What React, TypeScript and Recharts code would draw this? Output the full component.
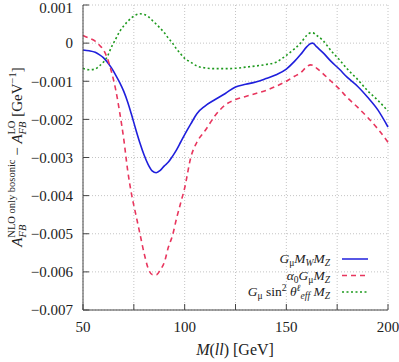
import React from 'react';
import { LineChart, Line, XAxis, YAxis, CartesianGrid, Legend } from 'recharts';

const FONT = "'Liberation Serif', 'DejaVu Serif', 'Noto Serif', serif";

const mass = [50, 53, 56, 58, 60, 62, 64, 66, 68, 70, 72, 74, 76, 78, 80, 82, 84, 86, 88, 90, 92, 94, 96, 98, 100, 103, 106, 110, 115, 120, 125, 130, 135, 140, 145, 150, 154, 157, 160, 162, 163, 165, 168, 172, 176, 180, 185, 190, 195, 200];

const gmuMwMz = [-0.00018, -0.0002, -0.00024, -0.0003, -0.00038, -0.0005, -0.00065, -0.00083, -0.00103, -0.00126, -0.00155, -0.0019, -0.00227, -0.00262, -0.00293, -0.00318, -0.00335, -0.0034, -0.00334, -0.00322, -0.00312, -0.00297, -0.0028, -0.0026, -0.0024, -0.00212, -0.00185, -0.00165, -0.00148, -0.00132, -0.00115, -0.00108, -0.00102, -0.00093, -0.00083, -0.00068, -0.00048, -0.0003, -0.0001, -0.00001, 0.0, -0.0001, -0.00025, -0.00048, -0.00068, -0.0009, -0.00113, -0.00142, -0.00175, -0.0022];

const alpha0GmuMz = [0.0002, 0.00013, 0.00005, -0.00005, -0.00017, -0.0004, -0.00075, -0.0012, -0.0018, -0.0025, -0.00335, -0.004, -0.0045, -0.005, -0.0055, -0.0059, -0.00607, -0.00608, -0.00595, -0.00575, -0.00535, -0.00505, -0.0046, -0.0042, -0.0038, -0.003, -0.0026, -0.0023, -0.0019, -0.00162, -0.00148, -0.0014, -0.00132, -0.00124, -0.00113, -0.001, -0.00087, -0.00078, -0.00062, -0.00057, -0.00058, -0.00066, -0.0008, -0.001, -0.0012, -0.00143, -0.00168, -0.00195, -0.00225, -0.0026];

const gmuSinMz = [-0.00066, -0.0007, -0.00068, -0.0006, -0.0005, -0.00035, -0.0001, 0.0001, 0.0003, 0.00045, 0.00057, 0.00067, 0.00074, 0.00077, 0.00075, 0.0007, 0.0006, 0.0005, 0.00039, 0.00027, 0.00013, 0.0, -0.00015, -0.00028, -0.0004, -0.0005, -0.0006, -0.00065, -0.00067, -0.00067, -0.00066, -0.00063, -0.0006, -0.00056, -0.0005, -0.00032, -0.00015, 0.0, 0.0002, 0.00027, 0.00027, 0.0002, 0.00007, -0.0002, -0.00043, -0.00068, -0.00095, -0.00125, -0.0015, -0.00178];

const xTicks = [50, 75, 100, 125, 150, 175, 200];
const yTicks = [-0.007, -0.006, -0.005, -0.004, -0.003, -0.002, -0.001, 0, 0.001];

const data = mass.map((m, i) => ({ m, a: gmuMwMz[i], b: alpha0GmuMz[i], c: gmuSinMz[i] }));

const BLUE = '#1f1fdc';
const RED = '#e8365e';
const GREEN = '#1e9a1e';
const AXIS = '#444';

const fmtY = (v: number) => {
  if (Math.abs(v) < 1e-12) return '0';
  return (v < 0 ? '\u2212' : '') + Math.abs(v).toFixed(3);
};
const fmtX = (v: number) => (v % 50 === 0 ? String(v) : '');

const SS = 9.5;
const Sub = ({ children, italic = true }: any) => (
  <tspan fontSize={SS} dy={3} fontStyle={italic ? 'italic' : 'normal'}>{children}</tspan>
);

const LegendBox = () => {
  const rows = [
    {
      color: BLUE, dash: undefined,
      text: (
        <>
          <tspan fontStyle="italic">G</tspan><Sub italic={false}>μ</Sub>
          <tspan dy={-3} fontStyle="italic">M</tspan><Sub>W</Sub>
          <tspan dy={-3} fontStyle="italic">M</tspan><Sub>Z</Sub>
        </>
      ),
    },
    {
      color: RED, dash: '5 4',
      text: (
        <>
          <tspan fontStyle="italic">α</tspan><Sub italic={false}>0</Sub>
          <tspan dy={-3} fontStyle="italic">G</tspan><Sub italic={false}>μ</Sub>
          <tspan dy={-3} fontStyle="italic">M</tspan><Sub>Z</Sub>
        </>
      ),
    },
    {
      color: GREEN, dash: '2 2.5',
      text: (
        <>
          <tspan fontStyle="italic">G</tspan><Sub italic={false}>μ</Sub>
          <tspan dy={-3}> sin</tspan><tspan fontSize={SS} dy={-5}>2</tspan>
          <tspan dy={5} fontStyle="italic"> θ</tspan>
          <tspan fontSize={SS} dy={-5} fontStyle="italic">ℓ</tspan>
          <tspan fontSize={SS} dy={8} fontStyle="italic">eff</tspan>
          <tspan dy={-3} fontStyle="italic"> M</tspan><Sub>Z</Sub>
        </>
      ),
    },
  ];
  return (
    <svg width={240} height={56} style={{ overflow: 'visible', display: 'block' }}>
      {rows.map((r, i) => {
        const cy = 9 + i * 16.5;
        return (
          <g key={i}>
            <text x={200} y={cy + 4} textAnchor="end" fontFamily={FONT} style={{ fontFamily: FONT }} fontSize={13.5} fill="#222">{r.text}</text>
            <line x1={212} x2={238} y1={cy} y2={cy} stroke={r.color} strokeWidth={1.5} strokeDasharray={r.dash} />
          </g>
        );
      })}
    </svg>
  );
};

const YTitle = () => (
  <text x={22} y={157} transform="rotate(-90 22 157)" textAnchor="middle" fontFamily={FONT} style={{ fontFamily: FONT }} fontSize={15} fill="#222">
    <tspan fontStyle="italic">A</tspan>
    <tspan fontSize={10.5} dy={4} fontStyle="italic">FB</tspan>
    <tspan fontSize={10.5} dy={-11} dx={-13}>NLO only bosonic</tspan>
    <tspan dy={7}> − </tspan>
    <tspan fontStyle="italic">A</tspan>
    <tspan fontSize={10.5} dy={4} fontStyle="italic">FB</tspan>
    <tspan fontSize={10.5} dy={-11} dx={-13}>LO</tspan>
    <tspan dy={7}> [GeV</tspan>
    <tspan fontSize={10.5} dy={-6}>−1</tspan>
    <tspan dy={6}>]</tspan>
  </text>
);

const XTitle = () => (
  <text x={235} y={355} textAnchor="middle" fontFamily={FONT} style={{ fontFamily: FONT }} fontSize={16} fill="#222">
    <tspan fontStyle="italic">M</tspan>(<tspan fontStyle="italic">ll</tspan>) [GeV]
  </text>
);

const tickStyle = { fill: '#222', fontSize: 15, fontFamily: FONT, style: { fontFamily: FONT } } as any;

const YTick = (props: any) => {
  const { x, y, payload } = props;
  return (
    <text x={x} y={Math.max(y, 7.5)} dy="0.35em" textAnchor="end" fill="#222" fontSize={15} fontFamily={FONT} style={{ fontFamily: FONT }}>
      {fmtY(payload.value)}
    </text>
  );
};

export default function App() {
  return (
    <div style={{ position: 'absolute', left: 0, top: 0, width: 399, height: 362, background: '#fff', fontFamily: FONT }}>
      <LineChart width={399} height={362} data={data} margin={{ top: 5, right: 11, bottom: 0, left: 0 }}>
        <CartesianGrid stroke="#c4c4c4" strokeDasharray="1 2" />
        <XAxis
          dataKey="m" type="number" domain={[50, 200]} ticks={xTicks} tickFormatter={fmtX}
          height={52} tickSize={-6} tickMargin={17} stroke={AXIS} interval={0}
          tick={tickStyle}
          label={{ content: () => <XTitle /> }}
        />
        <XAxis
          xAxisId="top" orientation="top" dataKey="m" type="number" domain={[50, 200]} ticks={xTicks}
          height={0} tickSize={-6} stroke={AXIS} tick={false} interval={0}
        />
        <YAxis
          type="number" domain={[-0.007, 0.001]} ticks={yTicks} interval={0}
          width={83} tickSize={-6} tickMargin={16} stroke={AXIS}
          tick={<YTick />}
          label={{ content: () => <YTitle /> }}
        />
        <YAxis
          yAxisId="right" orientation="right" type="number" domain={[-0.007, 0.001]} ticks={yTicks}
          width={0} tickSize={-6} stroke={AXIS} tick={false} interval={0}
        />
        <Legend
          layout="vertical" align="center" verticalAlign="middle"
          wrapperStyle={{ left: 130, top: 250, width: 240, height: 56 }}
          content={() => <LegendBox />}
        />
        <Line type="monotone" dataKey="a" stroke={BLUE} strokeWidth={1.6} dot={false} isAnimationActive={false} />
        <Line type="monotone" dataKey="b" stroke={RED} strokeWidth={1.6} strokeDasharray="5 4" dot={false} isAnimationActive={false} />
        <Line type="monotone" dataKey="c" stroke={GREEN} strokeWidth={1.6} strokeDasharray="2 2.5" dot={false} isAnimationActive={false} />
      </LineChart>
    </div>
  );
}
